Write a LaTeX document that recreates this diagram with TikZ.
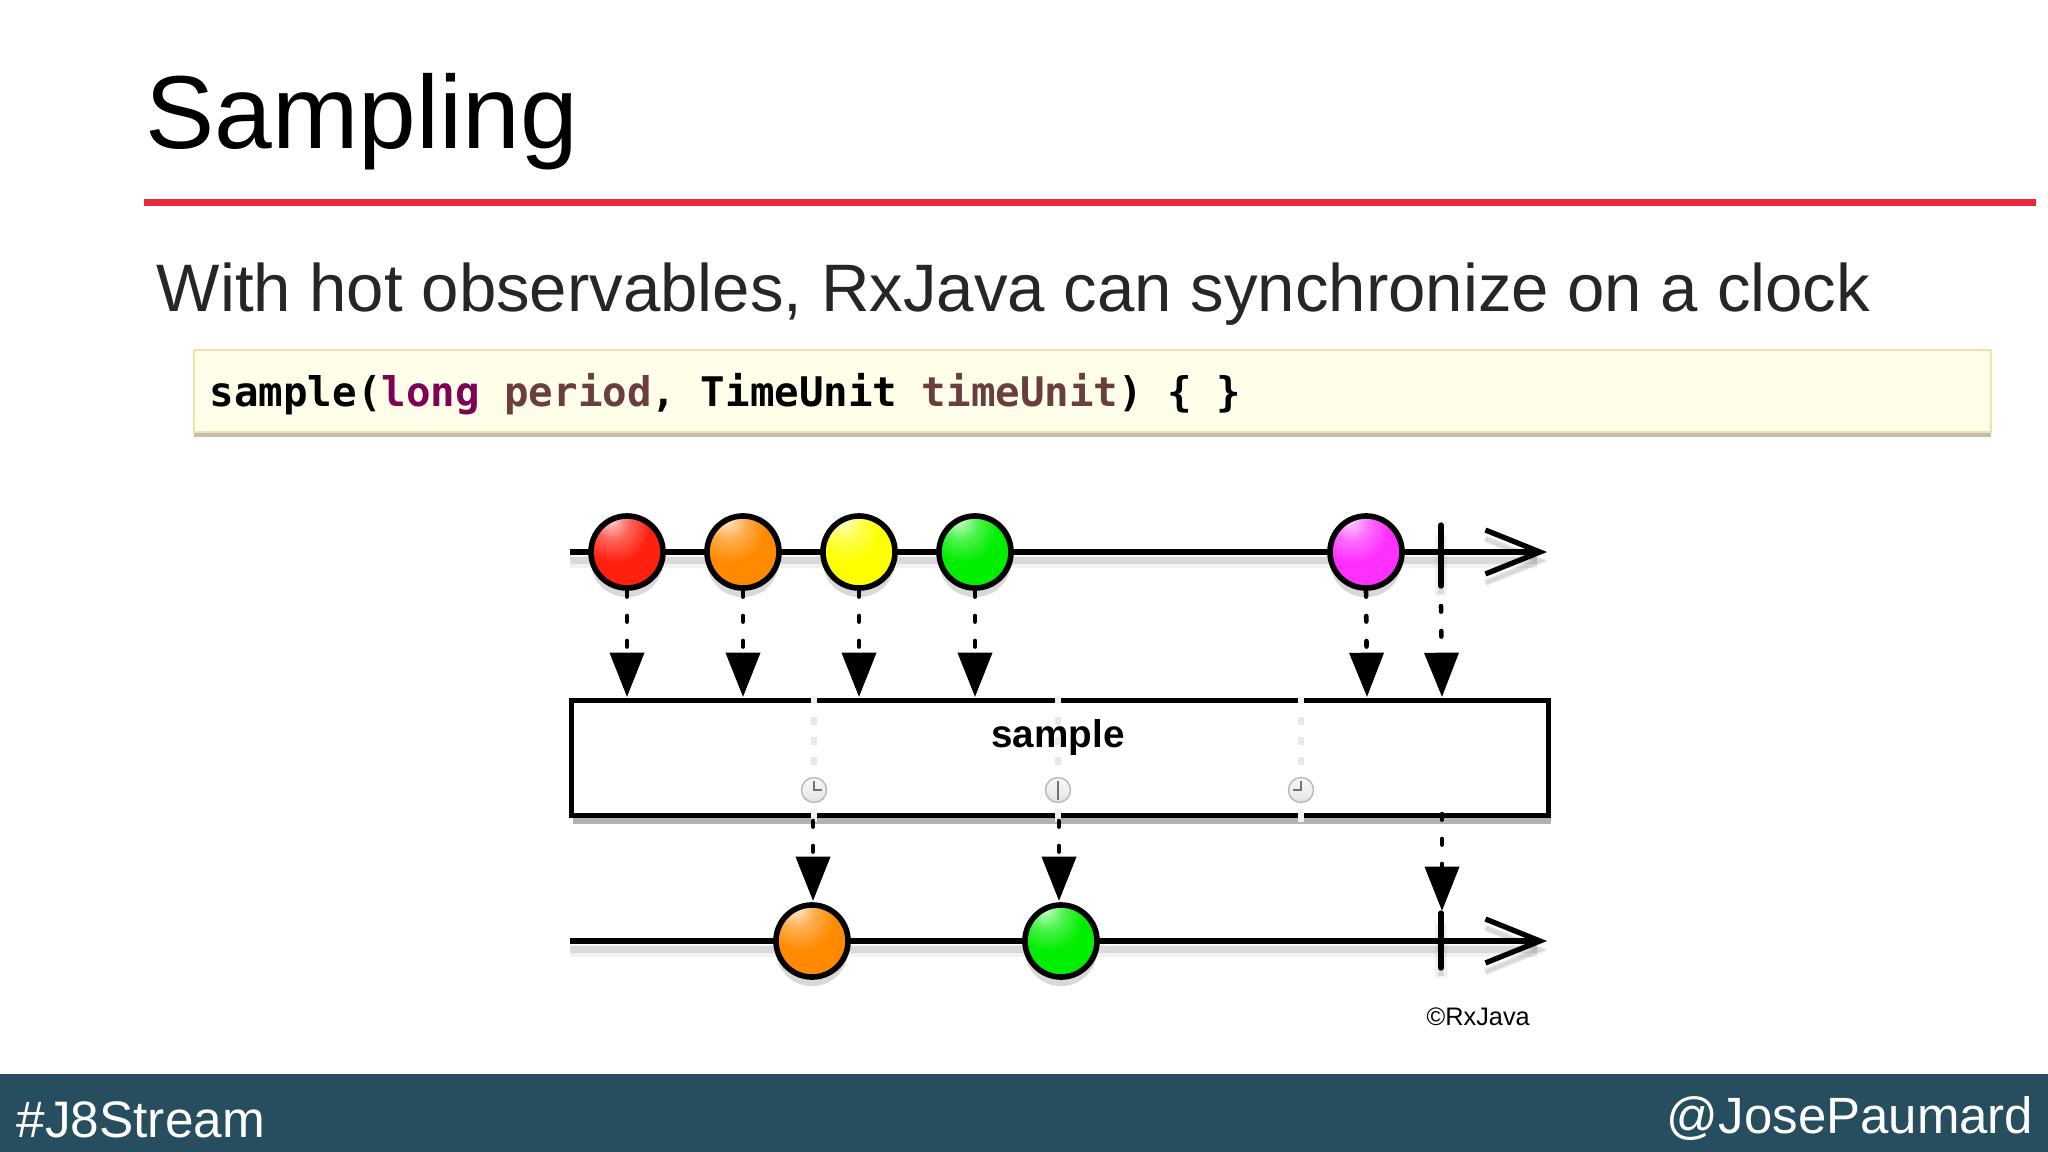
\documentclass[tikz,border=0pt]{standalone}
\usepackage{fontspec}
\setmainfont{Liberation Sans}
\newfontfamily\codefont{DejaVu Sans Mono}
\usetikzlibrary{arrows.meta,shadows}

\definecolor{slidered}{HTML}{E8293B}
\definecolor{footerblue}{HTML}{264E5E}
\definecolor{codefill}{HTML}{FFFFE9}
\definecolor{codeedge}{HTML}{F3E2A8}
\definecolor{keywordcol}{HTML}{7F0055}
\definecolor{paramcol}{HTML}{6A3E3E}
\definecolor{ballred}{HTML}{FF2010}
\definecolor{ballorange}{HTML}{FF8A00}
\definecolor{ballyellow}{HTML}{FFFF00}
\definecolor{ballgreen}{HTML}{00EE00}
\definecolor{ballmagenta}{HTML}{FF30FF}

\pgfdeclareradialshading[ballbase]{marble}{\pgfpoint{-12bp}{24bp}}{%
  color(0bp)=(ballbase!15!white); color(12bp)=(ballbase!70!white);
  color(24bp)=(ballbase); color(50bp)=(ballbase); color(64bp)=(ballbase!72!black);
  color(78bp)=(ballbase!40!black)}
\pgfdeclareverticalshading{clockface}{100bp}{%
  color(0bp)=(black!20); color(40bp)=(black!8); color(100bp)=(white)}

\tikzset{
  lineshadow/.style={preaction={draw=black,opacity=.05,line width=3.6pt,transform canvas={yshift=-2.8pt}},
                     preaction={draw=black,opacity=.10,line width=1.8pt,transform canvas={yshift=-2.4pt}}},
  axisline/.style={line width=1.45pt,lineshadow},
  axishead/.style={-{Straight Barb[length=15.5pt,width=12.5pt,line width=1.5pt]}},
  tickline/.style={line width=1.5pt,line cap=round,lineshadow},
  marble/.style={circle,draw=black,line width=1.6pt,minimum size=.72cm,inner sep=0pt,shading=marble,
                 /utils/exec={\colorlet{ballbase}{#1}},
                 general shadow={shadow yshift=-2.6pt,fill=black,opacity=.15}},
  emits/.style={line width=1.3pt,line cap=round,dash pattern=on 1.6pt off 5.5pt,
                -{Triangle[length=12.6pt,width=9.6pt,line cap=butt]}},
  clocktrack/.style={line width=1.9pt,draw=black!9,dash pattern=on 2.3pt off 3.4pt},
  clockcut/.style={line width=1.7pt,draw=black!5},
  clockhand/.style={line width=.35pt,draw=black!55},
  clockdial/.style={circle,draw=black!28,line width=.4pt,minimum size=.25cm,inner sep=0pt,shading=clockface}
}

\begin{document}
\begin{tikzpicture}[x=0.01cm,y=-0.01cm]
\useasboundingbox (0,0) rectangle (2048,1152);

% heading
\node (title) [anchor=west,inner sep=0pt] at (145,122) {\fontsize{29.5pt}{35pt}\selectfont Sampling};
\fill [slidered] (144,199.5) rectangle (2036,206.5);
\node (subtitle) [anchor=west,inner sep=0pt,text=black!85] at (156,294) {\fontsize{19.1pt}{23pt}\selectfont With hot observables, RxJava can synchronize on a clock};

% code line
\node (codebox) [anchor=north west,minimum width=17.96cm,minimum height=.82cm,inner sep=0pt,
   fill=codefill,draw=codeedge,line width=.5pt,
   general shadow={shadow yshift=-1.4pt,fill=black!45!codeedge,opacity=.5}] at (193,349) {};
\node (code) [anchor=west,inner sep=0pt] at (209,394) {\codefont\bfseries\fontsize{11.6pt}{14pt}\selectfont
   sample(\textcolor{keywordcol}{long} \textcolor{paramcol}{period}, TimeUnit \textcolor{paramcol}{timeUnit}) \{ \}};

% source line
\coordinate (srcstart) at (570,552);
\coordinate (srcend) at (1547,552);
\draw [axisline,axishead] (srcstart) -- (srcend);
\coordinate (srctop) at (1441,525);
\coordinate (srcbot) at (1441,586);
\draw [tickline] (srctop) -- (srcbot);
\node (ball1) [marble=ballred] at (627,552) {};
\node (ball2) [marble=ballorange] at (743,552) {};
\node (ball3) [marble=ballyellow] at (859,552) {};
\node (ball4) [marble=ballgreen] at (975,552) {};
\node (ball5) [marble=ballmagenta] at (1366,552) {};

% operator box
\node (opbox) [anchor=north west,minimum width=9.77cm,minimum height=1.15cm,inner sep=0pt,
   fill=white,draw=black,line width=1.5pt,
   general shadow={shadow yshift=-2.6pt,shadow xshift=.6pt,fill=black,opacity=.3}] at (568.5,697.5) {};
\node (oplabel) [inner sep=0pt] at (1058,737) {\bfseries\fontsize{11pt}{13pt}\selectfont sample};

% arrows into the box
\coordinate (in1) at (627,697);
\coordinate (in2) at (743,697);
\coordinate (in3) at (859,697);
\coordinate (in4) at (975,697);
\coordinate (in5) at (1367,697);
\coordinate (in6) at (1442,697);
\draw [emits] (ball1) ++(0,39) -- (in1);
\draw [emits] (ball2) ++(0,39) -- (in2);
\draw [emits] (ball3) ++(0,39) -- (in3);
\draw [emits] (ball4) ++(0,39) -- (in4);
\draw [emits] (ball5) ++(0,39) -- (in5);
\draw [emits] (srcbot) ++(0,20) -- (in6);

% clocks
\node (clock1) [clockdial] at (814,790) {};
\node (clock2) [clockdial] at (1058,790) {};
\node (clock3) [clockdial] at (1301,790) {};
\draw [clockcut] (814,696) -- (814,704);
\draw [clockcut] (1058,696) -- (1058,704);
\draw [clockcut] (1301,696) -- (1301,704);
\draw [clocktrack] (814,717) -- (clock1.north);
\draw [clocktrack] (1058,717) -- (clock2.north);
\draw [clocktrack] (1301,717) -- (clock3.north);
\draw [clockcut] (clock1.south) ++(0,6) -- ++(0,13);
\draw [clockcut] (clock2.south) ++(0,6) -- ++(0,13);
\draw [clockcut] (clock3.south) ++(0,6) -- ++(0,13);
\draw [clockhand] (814,781) -- (clock1.center) -- (822,790);
\draw [clockhand] (1058,781) -- (1058,800);
\draw [clockhand] (1301,781) -- (clock3.center) -- (1293,790);

% result line
\coordinate (outstart) at (570,941);
\coordinate (outend) at (1547,941);
\draw [axisline,axishead] (outstart) -- (outend);
\coordinate (outtop) at (1441,913);
\coordinate (outbot) at (1441,968);
\draw [tickline] (outtop) -- (outbot);
\node (ball6) [marble=ballorange] at (812,941) {};
\node (ball7) [marble=ballgreen] at (1061,941) {};

% arrows out of the box
\coordinate (out1) at (813,821);
\coordinate (out2) at (1059,821);
\coordinate (out3) at (1442,814);
\coordinate (tip1) at (813,901);
\coordinate (tip2) at (1059,901);
\coordinate (tip3) at (1442,911);
\draw [emits] (out1) -- (tip1);
\draw [emits] (out2) -- (tip2);
\draw [emits] (out3) -- (tip3);

\node (credit) [anchor=west,inner sep=0pt] at (1426,1017) {\fontsize{7.2pt}{9pt}\selectfont ©RxJava};

% footer
\fill [footerblue] (0,1074) rectangle (2048,1152);
\node (hashtag) [anchor=west,inner sep=0pt,text=white] at (16,1120) {\fontsize{14.6pt}{18pt}\selectfont \#J8Stream};
\node (handle) [anchor=east,inner sep=0pt,text=white] at (2034,1119) {\fontsize{14.5pt}{18pt}\selectfont @JosePaumard};

\end{tikzpicture}
\end{document}
